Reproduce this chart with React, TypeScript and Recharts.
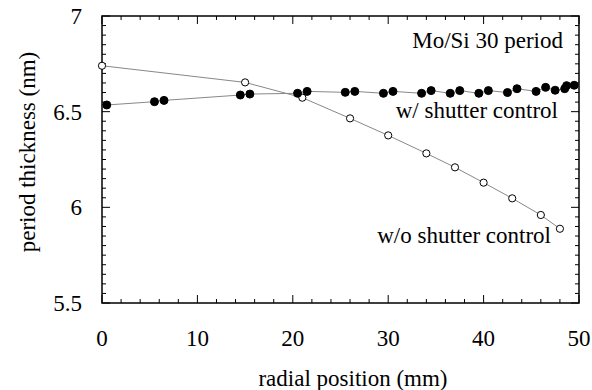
import { ScatterChart, Scatter, XAxis, YAxis, Customized } from "recharts";

// w/ shutter control (filled)
const withX = [0.5, 5.5, 6.5, 14.5, 15.5, 20.5, 21.5, 25.5, 26.5, 29.5, 30.5, 33.5, 34.5, 36.5, 37.5, 39.5, 40.5, 42.5, 43.5, 45.5, 46.5, 47.5, 48.5, 48.7, 49.5];
const withY = [6.535, 6.552, 6.559, 6.587, 6.592, 6.596, 6.606, 6.601, 6.606, 6.596, 6.606, 6.596, 6.61, 6.596, 6.61, 6.596, 6.61, 6.6, 6.62, 6.606, 6.627, 6.612, 6.62, 6.636, 6.638];

// w/o shutter control (open)
const withoutX = [0, 15, 21, 26, 30, 34, 37, 40, 43, 46, 48];
const withoutY = [6.74, 6.653, 6.573, 6.465, 6.376, 6.282, 6.209, 6.129, 6.047, 5.96, 5.888];

const xMajor = [0, 10, 20, 30, 40, 50];
const yMajor = [5.5, 6, 6.5, 7];
const xMinor = Array.from({ length: 26 }, (_, i) => i * 2);
const yMinor = Array.from({ length: 31 }, (_, i) => 5.5 + i * 0.05);

const withData = withX.map((x, i) => ({ x, y: withY[i] }));
const withoutData = withoutX.map((x, i) => ({ x, y: withoutY[i] }));

const W = 592;
const H = 390;
const M = { top: 16, right: 13, bottom: 87, left: 102 };
const X0 = M.left, X1 = W - M.right, Y0 = M.top, Y1 = H - M.bottom;
const sx = (v: number) => X0 + ((v - 0) / 50) * (X1 - X0);
const sy = (v: number) => Y1 - ((v - 5.5) / 1.5) * (Y1 - Y0);

const FONT = "Liberation Serif";
const FS = 23;

const Frame = () => {
  let d = `M${X0},${Y0}H${X1}V${Y1}H${X0}Z`;
  let t = "";
  xMinor.forEach((v) => {
    const len = xMajor.includes(v) ? 8 : 4;
    t += `M${sx(v)},${Y1}v${-len}M${sx(v)},${Y0}v${len}`;
  });
  yMinor.forEach((v, i) => {
    const len = i % 10 === 0 ? 8 : 4;
    t += `M${X0},${sy(v)}h${len}M${X1},${sy(v)}h${-len}`;
  });
  return (
    <g>
      <path d={t} stroke="#000" strokeWidth={1} fill="none" />
      <path d={d} stroke="#000" strokeWidth={1.5} fill="none" />
      <g fontFamily={FONT} fontSize={FS} fill="#000">
        {xMajor.map((v) => (
          <text key={"x" + v} x={sx(v)} y={Y1 + 43} textAnchor="middle">{v}</text>
        ))}
        {yMajor.map((v) => (
          <text key={"y" + v} x={X0 - 20} y={sy(v) + 8} textAnchor="end">{v}</text>
        ))}
        <text x={563} y={48} textAnchor="end">Mo/Si 30 period</text>
        <text x={558} y={118} textAnchor="end">w/ shutter control</text>
        <text x={551} y={243} textAnchor="end">w/o shutter control</text>
        <text x={353} y={386} textAnchor="middle">radial position (mm)</text>
        <text x={35} y={152} textAnchor="middle" transform="rotate(-90 35 152)">period thickness (nm)</text>
      </g>
    </g>
  );
};

const Filled = (p: any) => <circle cx={p.cx} cy={p.cy} r={4} fill="#000" stroke="#000" strokeWidth={1} />;
const Open = (p: any) => <circle cx={p.cx} cy={p.cy} r={3.6} fill="#fff" stroke="#000" strokeWidth={1} />;

export default function App() {
  return (
    <div style={{ position: "absolute", left: 0, top: 0, background: "#fff" }}>
      <ScatterChart width={W} height={H} margin={M}>
        <XAxis dataKey="x" type="number" domain={[0, 50]} hide />
        <YAxis dataKey="y" type="number" domain={[5.5, 7]} hide />
        <Customized component={Frame} />
        <Scatter data={withoutData} line={{ stroke: "#888", strokeWidth: 1 }} shape={Open} isAnimationActive={false} />
        <Scatter data={withData} line={{ stroke: "#888", strokeWidth: 1 }} shape={Filled} isAnimationActive={false} />
      </ScatterChart>
    </div>
  );
}
